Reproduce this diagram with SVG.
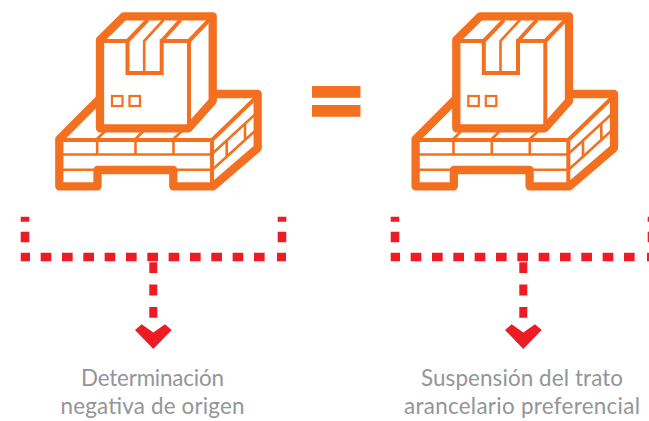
<svg xmlns="http://www.w3.org/2000/svg" width="649" height="421" viewBox="0 0 649 421">
<style>
.thick{fill:#fff;stroke:#f37021;stroke-width:8.300;stroke-linejoin:round;stroke-linecap:round}
.t4{fill:none;stroke:#f37021;stroke-width:4}
.t2{fill:none;stroke:#f37021;stroke-width:2.600}
.hair{fill:none;stroke:#f37021;stroke-width:2.200}
.red{fill:none;stroke:#ed1c24;stroke-width:8.600}
.dash{stroke-dasharray:10.67 10.66}
.dashv{fill:none;stroke:#ed1c24;stroke-width:8;stroke-dasharray:10.8 11.5}
.head{fill:#ed1c24}
.eq{fill:#f37021}
text{font-family:"Lato","Noto Sans",sans-serif;font-size:22.400px;fill:#939598;text-anchor:middle}
</style>
<defs>
<g id="pallet">
<path class="thick" d="M59.300 139.300L100 98.500V94H257.700V148L213 186.300H173.300V170H97.500V186.300H59.300Z"/>
<path class="t4" d="M60 140H212V186M212 140L257.500 96"/>
<path class="t2" d="M61 154.500H212M61 169.700H98M173 169.700H212M212 154L257 112.500M212 170L257 129M97.200 140V154.500M135.500 140V154.500M173.500 140V154.500M97 139L105 131M135.500 139L143.500 131M173.500 139L182 131M226.700 140V156M245 123V139"/>
<path class="thick" d="M100 40L124 16.300H212.700V101L188.500 128.300H100Z"/>
<path class="t4" d="M100 41H127.500V73H161.700V41H189M189 41V128M189 41L212 17M127.500 41L147.700 20M161.700 41L180.500 20"/>
<path class="t2" d="M144.200 73V41L163.500 20"/>
<rect class="hair" x="112" y="96" width="10.500" height="10"/>
<rect class="hair" x="129.500" y="96" width="10.500" height="10"/>
</g>
<g id="bracket">
<path class="red" d="M25 216.700V221.700M25 231.700V242.300M20.700 257H30M282 216.700V221.700M282 231.700V242.300M277 257H286"/>
<path class="red dash" d="M40.670 257H266"/>
<path class="dashv" d="M153.300 262.300V320"/>
<path class="head" d="M135 330L141.700 324.300L153.300 332.500L165 324.300L171.700 330L153.300 349Z"/>
</g>
</defs>
<g id="pallet-left"><use href="#pallet"/></g>
<g id="equals"><rect class="eq" x="312" y="86" width="48.500" height="11.800"/><rect class="eq" x="312" y="105" width="48.500" height="11.800"/></g>
<g id="pallet-right"><use href="#pallet" x="356.300"/></g>
<g id="connectors"><use href="#bracket"/><use href="#bracket" x="370"/></g>
<g id="label-left"><text x="152.500" y="385.500" textLength="143">Determinación</text><text x="152.500" y="414" textLength="184">negativa de origen</text></g>
<g id="label-right"><text x="522" y="385.500" textLength="202">Suspensión del trato</text><text x="522" y="414" textLength="236">arancelario preferencial</text></g>
</svg>
